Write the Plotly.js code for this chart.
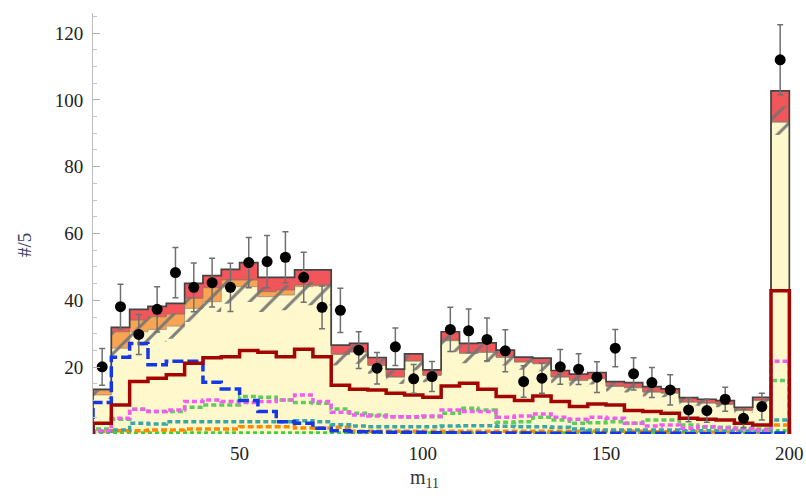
<!DOCTYPE html>
<html>
<head>
<meta charset="utf-8">
<script src="https://cdn.plot.ly/plotly-3.0.1.min.js"></script>
<style>
  html, body { margin: 0; padding: 0; background: #ffffff; }
  #plot { width: 806px; height: 496px; }
</style>
</head>
<body>
<div id="plot"></div>
<script>
// Histogram bin edges (width 5), last bin holds the overflow
const binEdges = [10, 15, 20, 25, 30, 35, 40, 45, 50, 55, 60, 65, 70, 75, 80, 85, 90, 95, 100,
  105, 110, 115, 120, 125, 130, 135, 140, 145, 150, 155, 160, 165, 170, 175, 180, 185, 190, 195, 200];

// Stacked expectation: three components per bin
const stackYellow = [11.7, 25.7, 30.6, 31.3, 32.3, 37.6, 39.6, 44.1, 44.1, 41.1, 41.6, 44.1, 44.3,
  23.8, 24.5, 20.5, 17.0, 21.8, 17.5, 27.9, 24.1, 24.4, 22.9, 21.5, 21.0, 17.0, 16.0, 16.5, 14.2,
  13.8, 12.5, 12.2, 9.5, 9.2, 8.8, 7.0, 10.0, 93.3];
const stackOrange = [1.3, 4.9, 3.5, 3.8, 3.6, 3.0, 4.2, 2.0, 2.0, 1.5, 1.5, 0.5, 0.3,
  0.2, 0.2, 0.2, 0.2, 0.2, 0.2, 0.2, 0.2, 0.2, 0.2, 0.2, 0.2, 0.2, 0.2, 0.2, 0.2,
  0.2, 0.2, 0.2, 0.2, 0.2, 0.2, 0.2, 0.2, 0.2];
const stackRed = [0.4, 1.3, 3.2, 3.1, 3.2, 4.5, 3.6, 3.2, 5.2, 4.3, 3.8, 4.5, 4.5,
  2.6, 2.4, 2.2, 2.2, 2.0, 1.5, 2.5, 2.8, 2.7, 2.0, 1.3, 1.5, 1.8, 1.7, 1.7, 1.3,
  1.4, 1.5, 1.1, 1.2, 1.0, 1.0, 0.8, 0.8, 9.2];

// Uncertainty band (hatched)
const bandLow = [10.5, 23.0, 26.5, 27.5, 28.5, 33.5, 36.5, 39.0, 39.5, 36.5, 37.0, 38.5, 38.5,
  20.5, 21.0, 18.0, 15.0, 19.0, 15.5, 24.5, 21.2, 21.5, 20.5, 19.2, 18.8, 15.2, 14.3, 14.8, 12.7,
  12.4, 11.2, 11.0, 8.5, 8.3, 8.0, 6.3, 9.0, 89.5];
const bandHigh = [13.2, 30.6, 34.1, 35.1, 36.0, 41.0, 44.0, 46.5, 46.5, 44.0, 44.5, 45.5, 45.5,
  26.0, 26.5, 22.5, 19.0, 23.5, 19.0, 30.0, 26.5, 26.8, 24.8, 23.0, 22.5, 18.8, 17.6, 18.0, 15.5,
  15.2, 14.0, 13.5, 10.7, 10.3, 10.0, 7.9, 11.0, 98.0];

// Individual shapes drawn as lines
const lineDarkRed = [3.2, 8.7, 15.7, 16.7, 17.7, 21.2, 22.8, 23.1, 25.0, 24.5, 23.1, 25.4, 23.1,
  14.6, 13.4, 13.2, 12.2, 11.7, 11.0, 14.4, 15.2, 13.4, 11.2, 10.0, 11.4, 9.7, 8.2, 9.0, 8.7,
  7.0, 6.7, 6.2, 4.7, 4.4, 4.2, 3.2, 2.7, 42.9];
const lineBlue = [9.4, 23.0, 27.1, 20.7, 21.8, 21.8, 15.5, 13.5, 10.0, 6.7, 3.7, 3.2, 1.7,
  1.0, 0.7, 0.6, 0.5, 0.5, 0.4, 0.4, 0.3, 0.3, 0.3, 0.3, 0.2, 0.2, 0.2, 0.2, 0.2,
  0.2, 0.2, 0.2, 0.1, 0.1, 0.1, 0.1, 0.1, 0.3];
const lineMagenta = [1.0, 4.7, 7.4, 6.7, 7.2, 9.7, 10.2, 9.7, 9.4, 9.7, 10.2, 11.7, 9.7,
  6.5, 5.7, 5.4, 5.2, 5.2, 5.4, 7.2, 6.7, 6.7, 5.0, 5.4, 6.0, 5.0, 4.4, 5.0, 4.7,
  3.2, 2.4, 2.7, 1.7, 2.2, 1.8, 1.5, 1.2, 21.8];
const lineGreen = [1.5, 4.4, 7.4, 6.7, 6.7, 8.0, 8.7, 8.7, 11.2, 11.0, 10.2, 9.4, 9.2,
  7.5, 6.2, 5.7, 5.2, 5.0, 5.2, 6.2, 7.7, 7.2, 3.5, 3.7, 5.0, 4.2, 3.2, 3.4, 3.7,
  3.2, 4.2, 4.2, 2.7, 2.0, 2.0, 1.8, 1.5, 16.0];
const lineTeal = [0.8, 1.2, 3.2, 3.0, 3.7, 3.7, 3.7, 3.7, 3.7, 3.7, 3.7, 4.0, 3.7,
  2.8, 2.4, 2.2, 2.2, 2.2, 2.2, 2.4, 2.5, 2.5, 2.3, 2.2, 2.2, 2.0, 1.5, 1.2, 1.2,
  1.2, 1.2, 1.2, 1.0, 1.0, 0.9, 0.9, 0.8, 4.2];
const lineOrange = [0.8, 1.0, 1.0, 1.2, 1.2, 1.5, 1.5, 1.5, 2.2, 2.2, 2.2, 1.8, 1.8,
  2.0, 0.8, 0.8, 0.8, 0.8, 0.8, 0.8, 0.8, 0.8, 0.8, 0.8, 0.8, 0.8, 0.8, 0.8, 0.8,
  0.8, 0.7, 0.7, 0.7, 0.6, 0.6, 0.6, 0.6, 2.7];
const lineLime = [0.3, 0.3, 0.3, 0.3, 0.3, 0.3, 0.3, 0.3, 0.3, 0.3, 0.3, 0.3, 0.3,
  0.3, 0.3, 0.3, 0.3, 0.3, 0.3, 0.3, 0.3, 0.3, 0.3, 0.3, 0.3, 0.3, 0.3, 0.3, 0.3,
  0.3, 0.3, 0.3, 0.3, 0.3, 0.3, 0.3, 0.3, 1.0];

// Observed counts with their errors
const dataCounts = [20.1, 38.1, 29.8, 37.3, 48.3, 43.9, 45.3, 43.9, 51.3, 51.6, 52.9, 46.9, 37.9,
  37.0, 25.1, 19.7, 26.1, 16.5, 17.2, 31.3, 30.9, 28.3, 24.9, 15.7, 16.7, 20.1, 19.4, 17.0, 25.7,
  18.0, 15.4, 13.2, 7.2, 7.0, 10.4, 4.7, 8.2, 112.0];
const dataErrors = [5.5, 6.7, 6.0, 6.8, 7.5, 7.3, 7.3, 7.2, 7.5, 7.8, 7.6, 7.5, 6.4,
  6.6, 5.5, 4.7, 5.6, 4.3, 4.5, 6.6, 6.5, 6.4, 6.3, 4.7, 4.5, 5.2, 4.6, 4.6, 5.6,
  4.8, 4.5, 4.5, 3.5, 3.5, 3.6, 2.8, 4.0, 10.5];

const yTickVals = [20, 40, 60, 80, 100, 120];
const xTickVals = [50, 100, 150, 200];

// ---- helpers -------------------------------------------------------------
const last = binEdges.length - 1;
function openStep(vals) {
  return { x: binEdges.slice(), y: vals.concat([vals[vals.length - 1]]) };
}
function closedStep(vals) {
  return {
    x: [binEdges[0]].concat(binEdges, [binEdges[last]]),
    y: [0].concat(vals, [vals[vals.length - 1], 0])
  };
}
function addArr(a, b) { return a.map((v, i) => v + b[i]); }

const cumYellow = stackYellow.slice();
const cumOrange = addArr(cumYellow, stackOrange);
const cumRed = addArr(cumOrange, stackRed);
const centers = dataCounts.map((_, i) => (binEdges[i] + binEdges[i + 1]) / 2);

const traces = [];

// stacked fills
let s = openStep(cumYellow);
traces.push({ x: s.x, y: s.y, type: 'scatter', mode: 'lines', line: { shape: 'hv', width: 0.8, color: '#9a8c78' },
  fill: 'tozeroy', fillcolor: '#fff8cc', hoverinfo: 'skip' });
s = openStep(cumOrange);
traces.push({ x: s.x, y: s.y, type: 'scatter', mode: 'lines', line: { shape: 'hv', width: 0.8, color: '#8c6f5e' },
  fill: 'tonexty', fillcolor: '#f8a452', hoverinfo: 'skip' });
s = openStep(cumRed);
traces.push({ x: s.x, y: s.y, type: 'scatter', mode: 'lines', line: { shape: 'hv', width: 0 },
  fill: 'tonexty', fillcolor: '#f0565a', hoverinfo: 'skip' });

// hatched uncertainty band
s = openStep(bandLow);
traces.push({ x: s.x, y: s.y, type: 'scatter', mode: 'lines', line: { shape: 'hv', width: 0 }, hoverinfo: 'skip' });
s = openStep(bandHigh);
traces.push({ x: s.x, y: s.y, type: 'scatter', mode: 'lines', line: { shape: 'hv', width: 0 },
  fill: 'tonexty', fillcolor: 'rgba(0,0,0,0)',
  fillpattern: { shape: '/', fgcolor: 'rgba(115,115,115,0.9)', bgcolor: 'rgba(0,0,0,0)', size: 15, solidity: 0.2 },
  hoverinfo: 'skip' });

// outline of the stack
s = closedStep(cumRed);
traces.push({ x: s.x, y: s.y, type: 'scatter', mode: 'lines', line: { shape: 'hv', width: 1.7, color: '#444444' }, hoverinfo: 'skip' });

// component shapes
function shapeTrace(vals, color, width, dash) {
  const c = closedStep(vals);
  return { x: c.x, y: c.y, type: 'scatter', mode: 'lines', hoverinfo: 'skip',
    line: { shape: 'hv', width: width, color: color, dash: dash } };
}
traces.push(shapeTrace(lineLime, '#3fd23f', 3.5, '4px,3px'));
traces.push(shapeTrace(lineOrange, '#ff8a00', 3.5, '6px,3px'));
traces.push(shapeTrace(lineTeal, '#3aa7a7', 3.5, '5px,3px'));
traces.push(shapeTrace(lineGreen, '#5dcc5d', 3.5, '5px,3px'));
traces.push(shapeTrace(lineMagenta, '#f25cf2', 3.5, '5px,3px'));
traces.push(shapeTrace(lineBlue, '#1438e6', 3.5, '11px,4px'));
traces.push(shapeTrace(lineDarkRed, '#a30505', 3.5, 'solid'));

// observed data
traces.push({
  x: centers, y: dataCounts, type: 'scatter', mode: 'markers', hoverinfo: 'skip',
  marker: { color: '#000000', size: 11 },
  error_y: { type: 'data', array: dataErrors, visible: true, color: '#707070', thickness: 1.5, width: 3 }
});

const serif = 'Liberation Serif, Times New Roman, serif';
const minorVals = [5, 10, 15, 25, 30, 35, 45, 50, 55, 65, 70, 75, 85, 90, 95, 105, 110, 115, 125];

const layout = {
  width: 806, height: 496,
  margin: { l: 93, r: 13, t: 13, b: 62 },
  paper_bgcolor: '#ffffff', plot_bgcolor: '#ffffff',
  showlegend: false,
  xaxis: {
    range: [10, 201], tickmode: 'array', tickvals: xTickVals,
    showgrid: false, zeroline: false, showline: false,
    ticks: '', ticklabelstandoff: 6,
    tickfont: { family: serif, size: 19, color: '#222222' }
  },
  yaxis: {
    range: [0, 126], tickmode: 'array', tickvals: yTickVals,
    showgrid: false, zeroline: false,
    showline: true, linecolor: '#bdbdbd', linewidth: 1,
    ticks: 'inside', ticklen: 7, tickcolor: '#b0b0b0', tickwidth: 1,
    minor: { tickmode: 'array', tickvals: minorVals, ticks: 'inside', ticklen: 4, tickcolor: '#c4c4c4', tickwidth: 1 },
    ticklabelstandoff: 5,
    tickfont: { family: serif, size: 19, color: '#222222' }
  },
  annotations: [
    { text: 'm<sub>11</sub>', xref: 'paper', yref: 'paper', x: 0.473, y: -0.105,
      xanchor: 'center', yanchor: 'middle', showarrow: false,
      font: { family: serif, size: 20, color: '#333344' } },
    { text: '#/5', xref: 'paper', yref: 'paper', x: -0.097, y: 0.449, textangle: -90,
      xanchor: 'center', yanchor: 'middle', showarrow: false,
      font: { family: serif, size: 19, color: '#33405a' } }
  ]
};

Plotly.newPlot('plot', traces, layout, { staticPlot: true, displayModeBar: false });
</script>
</body>
</html>
